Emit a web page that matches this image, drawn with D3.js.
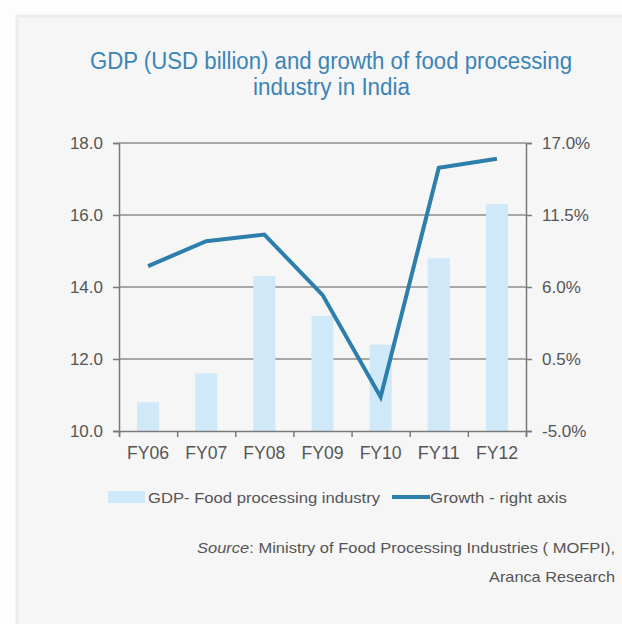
<!DOCTYPE html>
<html>
<head>
<meta charset="utf-8">
<script src="https://cdn.jsdelivr.net/npm/d3@7"></script>
<style>
  html, body { margin: 0; padding: 0; background: #fdfdfd; }
  svg { display: block; }
  text { font-family: "Liberation Sans", Arial, sans-serif; }
</style>
</head>
<body>
<svg id="chart" width="622" height="624"></svg>
<script>
const years   = ['FY06', 'FY07', 'FY08', 'FY09', 'FY10', 'FY11', 'FY12'];
const gdp     = [10.8, 11.6, 14.3, 13.2, 12.4, 14.8, 16.3];
const growth  = [7.6, 9.5, 10.0, 5.4, -2.4, 15.1, 15.8];
const leftTicks  = [10, 12, 14, 16, 18];
const rightTicks = [-5, 0.5, 6, 11.5, 17];

const BAR = '#cfe9f9';
const LINE = '#2d7fab';
const GREY = '#555';

const svg = d3.select('#chart');

// card
svg.append('rect').attr('x', 0).attr('y', 0).attr('width', 622).attr('height', 624).attr('fill', '#fdfdfd');
svg.append('rect').attr('x', 17).attr('y', 16).attr('width', 620).attr('height', 620)
  .attr('fill', '#f6f6f6').attr('stroke', '#ececec').attr('stroke-width', 3);

const m = { left: 119, right: 526, top: 143, bottom: 431 };

const x = d3.scaleBand().domain(years).range([m.left, m.right]).paddingInner(0.62).paddingOuter(0.31);
const xTick = d3.scaleLinear().domain([0, years.length]).range([m.left, m.right]);
const yL = d3.scaleLinear().domain([10, 18]).range([m.bottom, m.top]);
const yR = d3.scaleLinear().domain([-5, 17]).range([m.bottom, m.top]);

// title (narrow face squeezed to the reference width)
svg.append('text').attr('x', 90).attr('y', 69)
  .attr('font-size', 23).attr('fill', '#3a84b6')
  .attr('textLength', 482).attr('lengthAdjust', 'spacingAndGlyphs')
  .text('GDP (USD billion) and growth of food processing');
svg.append('text').attr('x', 253).attr('y', 95)
  .attr('font-size', 23).attr('fill', '#3a84b6')
  .attr('textLength', 157).attr('lengthAdjust', 'spacingAndGlyphs')
  .text('industry in India');

// gridlines
svg.append('g').selectAll('line').data(leftTicks.slice(1)).join('line')
  .attr('x1', m.left).attr('x2', m.right)
  .attr('y1', d => yL(d)).attr('y2', d => yL(d))
  .attr('stroke', '#8c8c8c').attr('stroke-width', 1.5);

// bars
svg.append('g').selectAll('rect').data(years).join('rect')
  .attr('x', d => x(d)).attr('width', x.bandwidth())
  .attr('y', (d, i) => yL(gdp[i]))
  .attr('height', (d, i) => yL(10) - yL(gdp[i]))
  .attr('fill', BAR);

// axes
const gL = svg.append('g').attr('transform', `translate(${m.left},0)`)
  .call(d3.axisLeft(yL).tickValues(leftTicks).tickFormat(d3.format('.1f')).tickSize(6).tickPadding(10));
const gR = svg.append('g').attr('transform', `translate(${m.right},0)`)
  .call(d3.axisRight(yR).tickValues(rightTicks).tickFormat(d => d.toFixed(1) + '%').tickSize(6).tickPadding(10));
const gB = svg.append('g').attr('transform', `translate(0,${m.bottom})`)
  .call(d3.axisBottom(xTick).tickValues(d3.range(years.length + 1)).tickFormat('').tickSize(6));
gB.append('g').selectAll('text').data(years).join('text')
  .attr('x', d => x(d) + x.bandwidth() / 2).attr('y', 28)
  .attr('text-anchor', 'middle').attr('font-size', 17.5).attr('fill', GREY)
  .attr('textLength', 42).attr('lengthAdjust', 'spacingAndGlyphs')
  .text(d => d);

[gL, gR, gB].forEach(g => {
  g.select('.domain').attr('stroke', '#7a7a7a').attr('stroke-width', 1.5);
  g.selectAll('.tick line').attr('stroke', '#7a7a7a').attr('stroke-width', 1.5);
  g.selectAll('.tick text').attr('font-size', 17).attr('fill', GREY)
    .attr('font-family', '"Liberation Sans", Arial, sans-serif');
});

// growth line
const line = d3.line()
  .x((d, i) => x(years[i]) + x.bandwidth() / 2)
  .y(d => yR(d));
svg.append('path').datum(growth).attr('d', line)
  .attr('fill', 'none').attr('stroke', LINE).attr('stroke-width', 4)
  .attr('stroke-linejoin', 'miter');

// legend
const lg = svg.append('g').attr('font-size', 15.5).attr('fill', GREY);
lg.append('rect').attr('x', 108).attr('y', 491).attr('width', 37).attr('height', 12).attr('fill', BAR);
lg.append('text').attr('x', 148).attr('y', 503)
  .attr('textLength', 232).attr('lengthAdjust', 'spacingAndGlyphs')
  .text('GDP- Food processing industry');
lg.append('line').attr('x1', 392).attr('x2', 430).attr('y1', 497).attr('y2', 497)
  .attr('stroke', LINE).attr('stroke-width', 4);
lg.append('text').attr('x', 430).attr('y', 503)
  .attr('textLength', 137).attr('lengthAdjust', 'spacingAndGlyphs')
  .text('Growth - right axis');

// source
const src = svg.append('text').attr('x', 197).attr('y', 553)
  .attr('font-size', 15).attr('fill', GREY)
  .attr('textLength', 418).attr('lengthAdjust', 'spacingAndGlyphs');
src.append('tspan').attr('font-style', 'italic').text('Source');
src.append('tspan').text(': Ministry of Food Processing Industries ( MOFPI),');
svg.append('text').attr('x', 489).attr('y', 582)
  .attr('font-size', 15).attr('fill', GREY)
  .attr('textLength', 126).attr('lengthAdjust', 'spacingAndGlyphs')
  .text('Aranca Research');
</script>
</body>
</html>
